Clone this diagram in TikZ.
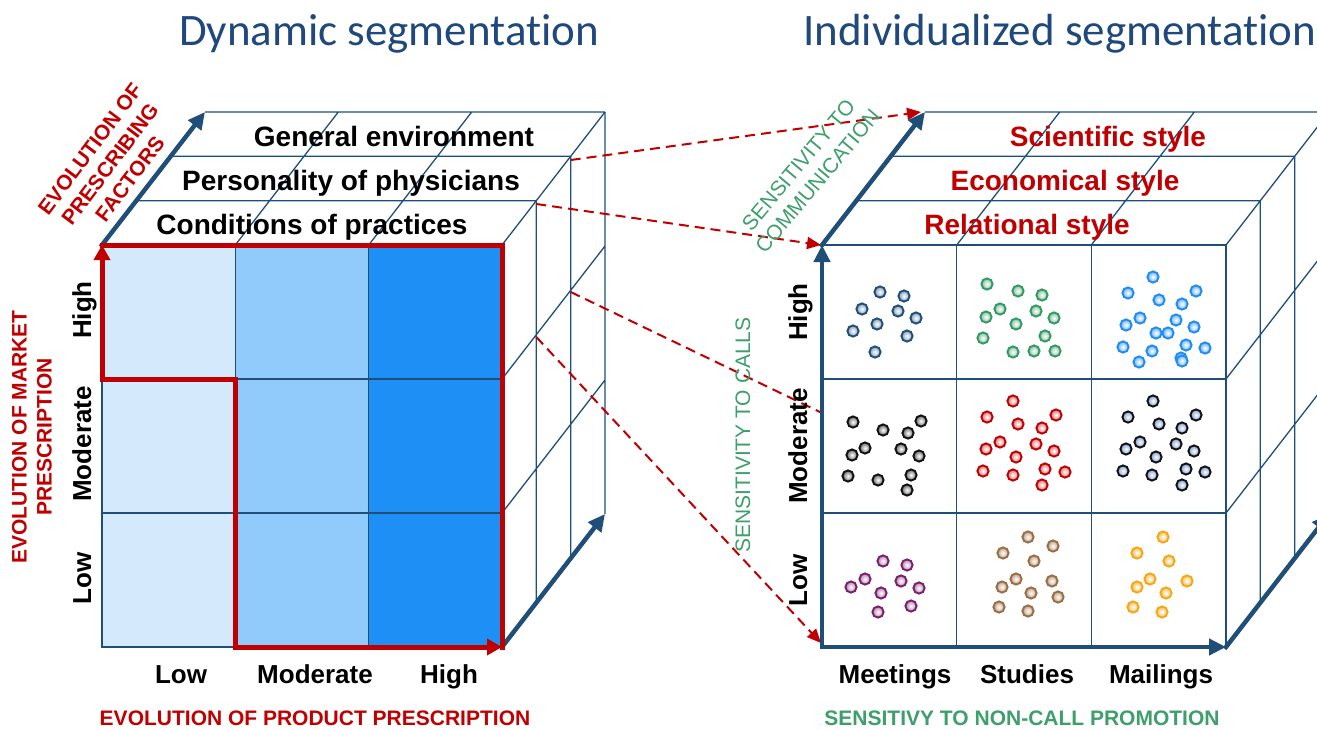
\documentclass[tikz,border=0pt]{standalone}
\usepackage{fontspec}
\setmainfont{Liberation Sans}
\newfontfamily\titlefont[Ligatures=NoCommon]{Carlito}
\usetikzlibrary{arrows.meta}
\definecolor{navy}{HTML}{1F4E79}
\definecolor{titleblue}{HTML}{1F497D}
\definecolor{dred}{HTML}{C00000}
\definecolor{sgreen}{HTML}{3E9E6C}
\definecolor{cellA}{HTML}{D5E9FC}
\definecolor{cellB}{HTML}{90CBFB}
\definecolor{cellC}{HTML}{1E90F5}
\definecolor{dotnavy}{HTML}{1F4E79}
\definecolor{dotgreen}{HTML}{329963}
\definecolor{dotsky}{HTML}{1E8CF5}
\definecolor{dotblack}{HTML}{111111}
\definecolor{dotsteel}{HTML}{7F9CD3}
\definecolor{dotred}{HTML}{C00000}
\definecolor{dotpurple}{HTML}{7A1F6C}
\definecolor{dotbrown}{HTML}{9A6E45}
\definecolor{dotorange}{HTML}{F7A614}
\newcommand\dotcell[4]{%
  \begin{scope}[shift={#3}]
    \foreach \a/\b in {#4} {%
      \shadedraw[draw=#1, line width=1.9pt, inner color=white, outer color=#2]
        (\a,\b) circle[radius=5.6pt];}
  \end{scope}}
\begin{document}
\begin{tikzpicture}[x=1pt,y=-1pt,
  gridline/.style={draw=navy, line width=1.3pt},
  axis/.style={draw=navy, line width=4.5pt, line cap=rect, -{Triangle[length=17pt,width=16pt]}},
  redline/.style={draw=dred, line width=5pt, line cap=rect},
  redaxis/.style={draw=dred, line width=5pt, line cap=rect, -{Triangle[length=15pt,width=16pt]}},
  link/.style={draw=dred, line width=2pt, dash pattern=on 10pt off 6pt},
  linkarrow/.style={link, -{Triangle[length=14pt,width=12pt]}},
  facetext/.style={font=\fontsize{28}{32}\selectfont\bfseries, anchor=base, inner sep=0pt},
  ticktext/.style={font=\fontsize{26}{30}\selectfont\bfseries, anchor=base, inner sep=0pt},
  captext/.style={font=\fontsize{21}{25}\selectfont\bfseries, inner sep=0pt, align=center},
  greentext/.style={font=\fontsize{21}{25}\selectfont, text=sgreen, inner sep=0pt, align=center},
  titletext/.style={font=\titlefont\fontsize{45}{50}\selectfont, text=titleblue, anchor=base, inner sep=0pt}
]
\useasboundingbox (0,0) rectangle (1317,729);
\clip (0,0) rectangle (1317,729);

% ---------- coordinates
\coordinate (LFtl) at (102,245);
\coordinate (LFtr) at (502,245);
\coordinate (LFbr) at (502,647);
\coordinate (LFbl) at (102,647);
\coordinate (LBtl) at (205,112);
\coordinate (LBbr) at (605,514);
\coordinate (Lstep) at (235.3,379);
\coordinate (Lstepb) at (235.3,647);
\coordinate (Lmid) at (102,379);
\coordinate (RFtl) at (822,245);
\coordinate (RFbl) at (822,647);
\coordinate (RFbr) at (1226,647);
\coordinate (RBtl) at (925,112);
\coordinate (RBbr) at (1329,514);
\coordinate (s1) at (570.7,160);
\coordinate (s2) at (536.3,204);
\coordinate (s3) at (570.7,292);
\coordinate (s4) at (536.3,337);
\coordinate (e1) at (921,112);
\coordinate (e2) at (821,245);
\coordinate (e3) at (822,413);
\coordinate (e4) at (821,643);

% ---------- left cube
\fill[cellA] (102,245) rectangle (235.3,647);
\fill[cellB] (235.3,245) rectangle (368.7,647);
\fill[cellC] (368.7,245) rectangle (502,647);
\draw[gridline] (102,245) rectangle (502,647);
\draw[gridline] (235.3,245) -- (235.3,647) (368.7,245) -- (368.7,647)
  (102,379) -- (502,379) (102,513) -- (502,513);
\draw[gridline] (136.3,200.7) -- (536.3,200.7) (170.7,156.3) -- (570.7,156.3) (205,112) -- (605,112)
  (235.3,245) -- (338.3,112) (368.7,245) -- (471.7,112) (502,245) -- (605,112);
\draw[gridline] (536.3,200.7) -- (536.3,602.7) (570.7,156.3) -- (570.7,558.3) (605,112) -- (605,514)
  (502,379) -- (605,246) (502,513) -- (605,380);

% ---------- right cube
\draw[gridline] (822,245) rectangle (1226,647);
\draw[gridline] (956.7,245) -- (956.7,647) (1091.3,245) -- (1091.3,647)
  (822,379) -- (1226,379) (822,513) -- (1226,513);
\draw[gridline] (856.3,200.7) -- (1260.3,200.7) (890.7,156.3) -- (1294.7,156.3) (925,112) -- (1329,112)
  (956.7,245) -- (1059.7,112) (1091.3,245) -- (1194.3,112) (1226,245) -- (1329,112);
\draw[gridline] (1260.3,200.7) -- (1260.3,602.7) (1294.7,156.3) -- (1294.7,558.3) (1329,112) -- (1329,514)
  (1226,379) -- (1329,246) (1226,513) -- (1329,380);

% ---------- dots
\dotcell{dotnavy}{dotnavy!55}{(822,245)}{58/47, 82/51, 40/64, 76/66, 94/73, 55/79, 31/86, 85/91, 53/107}
\dotcell{dotgreen}{dotgreen!60}{(957,245)}{30/39, 61/46, 85/50, 43/64, 79/66, 29/72, 97/73, 59/79, 88/91, 26/93, 56/107, 77/106, 98/106}
\dotcell{dotsky}{dotsky!65}{(1092,245)}{61/32, 36/48, 104/46, 67/55, 90/59, 48/73, 84/75, 34/80, 102/82, 64/88, 76/88, 94/100, 31/102, 60/106, 113/103, 47/117, 89/113, 90/116}
\dotcell{dotblack}{black!60}{(822,379)}{31/43, 61/51, 86/54, 99/42, 43/69, 30/76, 79/70, 97/77, 26/97, 56/101, 89/96, 85/111}
\dotcell{dotred}{dotred!55}{(957,379)}{56/22, 30/38, 99/36, 61/45, 85/49, 43/63, 79/65, 29/70, 97/72, 59/78, 26/92, 56/96, 88/90, 108/93, 85/106}
\dotcell{dotblack}{dotsteel}{(1092,379)}{61/22, 36/38, 104/36, 67/45, 90/49, 48/63, 84/65, 34/70, 102/72, 64/78, 31/92, 60/96, 94/90, 113/93, 90/106}
\dotcell{dotpurple}{dotpurple!55}{(822,513)}{61/48, 85/52, 43/66, 79/68, 29/74, 97/75, 59/80, 89/93, 56/99}
\dotcell{dotbrown}{dotbrown!65}{(957,513)}{71/24, 96/33, 46/40, 77/48, 59/66, 95/68, 45/74, 74/80, 101/84, 42/94, 71/98}
\dotcell{dotorange}{dotorange!70}{(1092,513)}{71/24, 45/40, 77/48, 58/66, 95/68, 45/74, 74/80, 41/94, 70/99}

% ---------- dashed links
\draw[linkarrow] (s1) -- (e1);
\draw[linkarrow] (s2) -- (e2);
\draw[link] (s3) -- (e3);
\draw[linkarrow] (s4) -- (e4);

% ---------- axes
\draw[axis] (LFtl) -- (LBtl);
\draw[axis] (LFbr) -- (LBbr);
\draw[axis] (RFbl) -- (RFtl);
\draw[axis] (RFbl) -- (RFbr);
\draw[axis] (RFtl) -- (RBtl);
\draw[axis] (RFbr) -- (RBbr);

% ---------- red outline
\draw[redline] (LFtl) -- (LFtr) -- (LFbr);
\draw[redaxis] (Lstep) -- (Lmid) -- (LFtl);
\draw[redaxis] (Lstep) -- (Lstepb) -- (LFbr);

% ---------- titles
\node[titletext] (title1) at (389,45) {Dynamic segmentation};
\node[titletext, anchor=base west] (title2) at (803,45) {Individualized segmentation};

% ---------- face labels
\node[facetext] (ge) at (394,146) {General environment};
\node[facetext] (pp) at (351,190) {Personality of physicians};
\node[facetext] (cp) at (312,234) {Conditions of practices};
\node[facetext, text=dred] (ss) at (1108,146) {Scientific style};
\node[facetext, text=dred] (es) at (1065,190) {Economical style};
\node[facetext, text=dred] (rs) at (1027,234) {Relational style};

% ---------- tick labels
\node[ticktext] (lc1) at (181,683) {Low};
\node[ticktext] (lc2) at (315,683) {Moderate};
\node[ticktext] (lc3) at (449,683) {High};
\node[ticktext] (rc1) at (895,683) {Meetings};
\node[ticktext] (rc2) at (1027,683) {Studies};
\node[ticktext] (rc3) at (1161,683) {Mailings};
\node[ticktext, rotate=90] (lr1) at (91,310) {High};
\node[ticktext, rotate=90] (lr2) at (91,444) {Moderate};
\node[ticktext, rotate=90] (lr3) at (91,578) {Low};
\node[ticktext, rotate=90] (rr1) at (807,312) {High};
\node[ticktext, rotate=90] (rr2) at (807,446) {Moderate};
\node[ticktext, rotate=90] (rr3) at (807,580) {Low};

% ---------- axis captions
\node[captext, text=dred, anchor=base] (cap1) at (315,725) {EVOLUTION OF PRODUCT PRESCRIPTION};
\node[captext, text=sgreen, anchor=base] (cap2) at (1022,725) {SENSITIVY TO NON-CALL PROMOTION};
\node[captext, text=dred, rotate=90] (cap3) at (32,437) {EVOLUTION OF MARKET\\PRESCRIPTION};
\node[captext, text=dred, rotate=53] (cap4) at (110,164) {EVOLUTION OF\\PRESCRIBING\\FACTORS};
\node[greentext, rotate=90] (cap5) at (743,435) {SENSITIVITY TO CALLS};
\node[greentext, rotate=50] (cap6) at (808,173) {SENSITIVITY TO\\COMMUNICATION};
\end{tikzpicture}
\end{document}
